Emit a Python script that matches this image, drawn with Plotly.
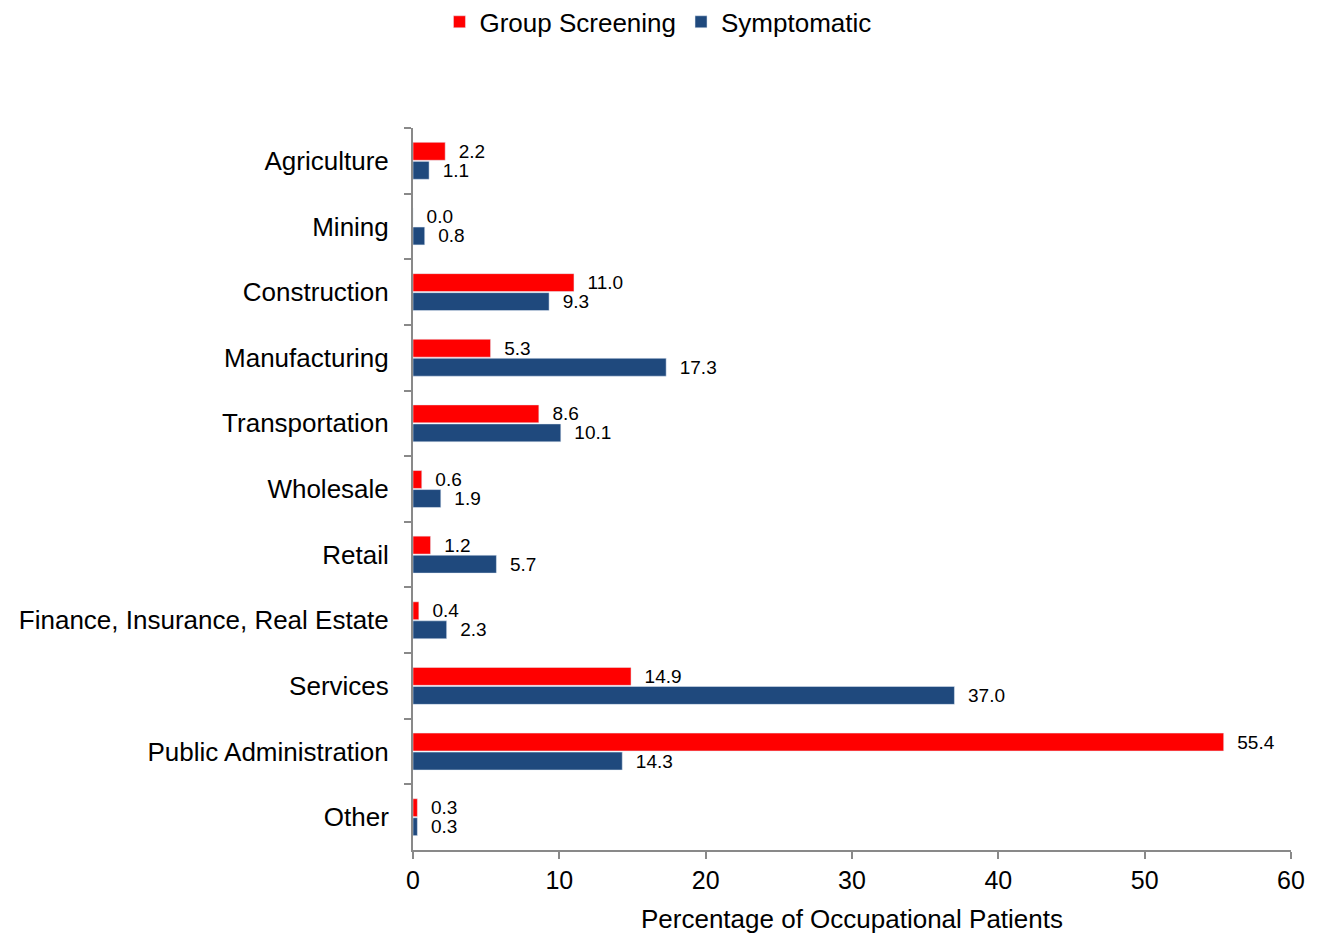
import plotly.graph_objects as go

categories = [
    "Agriculture", "Mining", "Construction", "Manufacturing", "Transportation",
    "Wholesale", "Retail", "Finance, Insurance, Real Estate", "Services",
    "Public Administration", "Other",
]
group_screening = [2.2, 0.0, 11.0, 5.3, 8.6, 0.6, 1.2, 0.4, 14.9, 55.4, 0.3]
symptomatic = [1.1, 0.8, 9.3, 17.3, 10.1, 1.9, 5.7, 2.3, 37.0, 14.3, 0.3]

FONT = "Arial, Liberation Sans, sans-serif"
AXIS_GREY = "#898989"

fig = go.Figure()
fig.add_trace(go.Bar(
    name="Group Screening", y=categories, x=group_screening, orientation="h",
    marker_color="#ff0000", texttemplate="\u00a0\u00a0%{x:.1f}",
    textposition="outside", textfont=dict(size=19, color="black"),
    constraintext="none", cliponaxis=False,
))
fig.add_trace(go.Bar(
    name="Symptomatic", y=categories, x=symptomatic, orientation="h",
    marker_color="#1f497d", texttemplate="\u00a0\u00a0%{x:.1f}",
    textposition="outside", textfont=dict(size=19, color="black"),
    constraintext="none", cliponaxis=False,
))

# page body adds an 8px offset, margins are set so the plot lands at 412..1291 x 128..850
fig.update_layout(
    width=1318, height=934,
    margin=dict(l=405, r=35, t=120, b=92, autoexpand=False),
    paper_bgcolor="white", plot_bgcolor="white",
    font=dict(family=FONT, size=26, color="black"),
    barmode="group", bargap=0.42, bargroupgap=0.06,
    legend=dict(
        orientation="h", x=0.279, xanchor="center", y=1.147, yanchor="middle",
        font=dict(size=26), itemwidth=30, traceorder="normal",
    ),
)
fig.update_xaxes(
    range=[0, 60], dtick=10, showgrid=False, zeroline=False,
    showline=True, linecolor=AXIS_GREY, linewidth=2,
    ticks="outside", tickcolor=AXIS_GREY, ticklen=7, tickwidth=2,
    tickfont=dict(size=25),
    title=dict(text="Percentage of Occupational Patients", font=dict(size=26), standoff=17),
)
fig.update_yaxes(
    autorange="reversed", showgrid=False, zeroline=False,
    showline=True, linecolor=AXIS_GREY, linewidth=2,
    ticks="outside", tickson="boundaries", tickcolor=AXIS_GREY,
    ticklen=7, tickwidth=2, tickfont=dict(size=26), ticklabelstandoff=17,
)

fig.write_html("out.html")
